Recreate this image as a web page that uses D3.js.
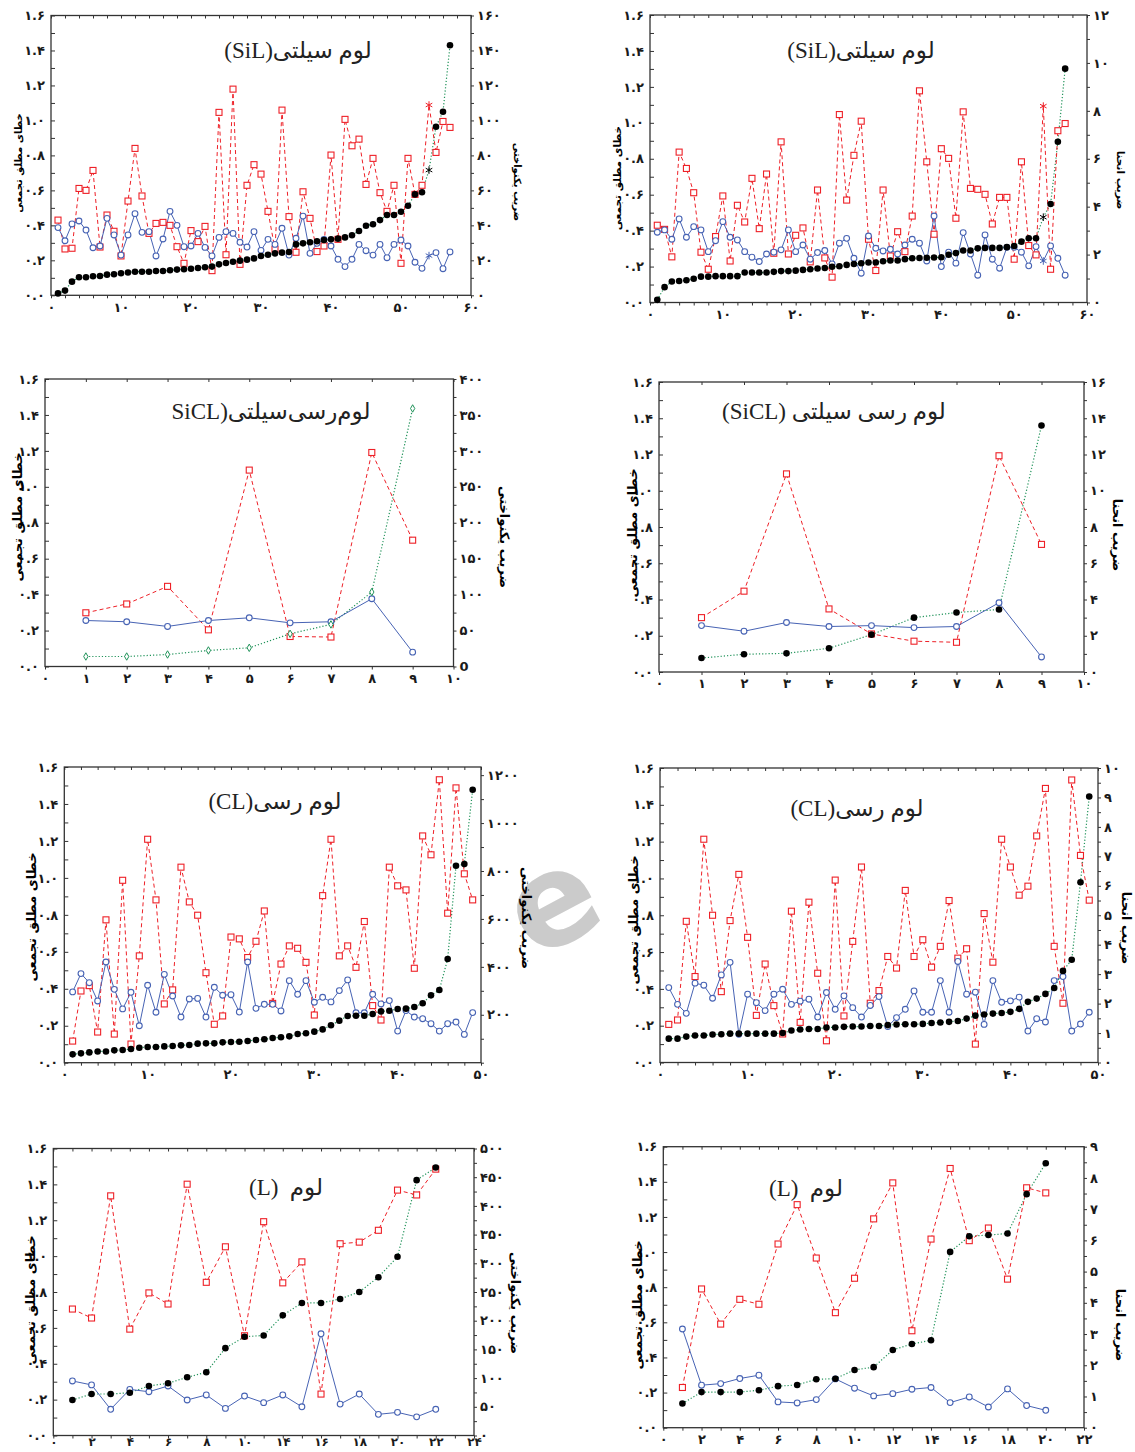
<!DOCTYPE html>
<html>
<head>
<meta charset="utf-8">
<script src="https://cdn.jsdelivr.net/npm/d3@7"></script>
<style>
  body { margin: 0; background: #fff; }
  svg text { font-family: "DejaVu Sans", sans-serif; }
</style>
</head>
<body>
<svg id="chart" width="1135" height="1452"></svg>
<script>
// ---- data: cumulative absolute error (blue = model A, red = model B) and coefficient (black) ----
// silty loam, uniformity coefficient
const silCuBlue = [0.387,0.312,0.408,0.425,0.373,0.272,0.282,0.44,0.345,0.23,0.345,0.467,0.36,0.364,0.225,0.322,0.48,0.40,0.278,0.282,
  0.354,0.274,0.225,0.331,0.364,0.354,0.303,0.276,0.364,0.257,0.32,0.291,0.383,0.23,0.326,0.453,0.24,0.297,0.32,0.282,
  0.206,0.164,0.206,0.291,0.255,0.23,0.291,0.215,0.291,0.316,0.282,0.189,0.154,0.227,0.244,0.152,0.248];
const silCuRed = [0.43,0.265,0.269,0.611,0.60,0.714,0.276,0.459,0.366,0.225,0.539,0.84,0.568,0.354,0.411,0.417,0.40,0.278,0.183,0.37,
  0.307,0.394,0.141,1.046,0.232,1.179,0.177,0.629,0.747,0.693,0.48,0.263,1.059,0.45,0.246,0.592,0.44,0.25,0.282,0.802,
  0.32,1.006,0.855,0.893,0.634,0.783,0.587,0.48,0.629,0.183,0.783,0.577,0.629,1.088,0.817,0.994,0.96];
const silCuCoef = [1.1,2.7,7.8,10.3,10.3,10.9,11,11.8,12,12.6,13,13.5,13.5,13.5,13.9,13.9,14.3,14.7,14.9,15.2,
  15.6,16,16.4,17.7,18.5,19.2,19.8,20.4,21.1,22.5,23.2,24,24.4,24.8,29.1,29.7,30.3,30.9,31.6,32,
  32.4,33.1,34.3,36.8,39.8,40.6,43,45.9,45.9,47.8,51.2,57.7,58.9,71.6,96.4,105,143];

// silty loam, curvature coefficient
const silCcBlue = [0.391,0.404,0.352,0.465,0.363,0.422,0.404,0.283,0.344,0.45,0.363,0.348,0.283,0.252,0.228,0.27,0.28,0.293,0.404,0.283,
  0.32,0.241,0.278,0.289,0.215,0.33,0.357,0.246,0.163,0.37,0.302,0.287,0.296,0.27,0.32,0.352,0.33,0.231,0.481,0.2,
  0.28,0.219,0.389,0.27,0.152,0.376,0.241,0.191,0.307,0.307,0.28,0.204,0.311,0.231,0.315,0.246,0.152];
const silCcRed = [0.43,0.407,0.254,0.837,0.746,0.611,0.28,0.185,0.367,0.593,0.231,0.541,0.448,0.691,0.411,0.715,0.274,0.894,0.27,0.374,
  0.415,0.226,0.626,0.248,0.141,1.046,0.57,0.819,1.009,0.352,0.178,0.626,0.259,0.394,0.283,0.481,1.178,0.783,0.38,0.856,
  0.802,0.469,1.061,0.635,0.63,0.602,0.437,0.585,0.585,0.241,0.783,0.317,0.265,1.093,0.185,0.956,0.996];
const silCcCoef = [0.11,0.64,0.875,0.9,0.93,0.99,1.08,1.08,1.1,1.1,1.1,1.1,1.25,1.25,1.25,1.25,1.28,1.31,1.31,1.33,
  1.36,1.39,1.42,1.44,1.49,1.51,1.57,1.61,1.64,1.67,1.67,1.72,1.75,1.75,1.81,1.85,1.86,1.87,1.88,1.89,
  1.99,2.06,2.17,2.17,2.26,2.28,2.28,2.28,2.31,2.36,2.54,2.68,2.68,3.56,4.11,6.71,9.76];

// silty clay loam
const siclCuBlue = [0.256,0.249,0.223,0.256,0.271,0.243,0.249,0.377,0.08];
const siclCuRed = [0.299,0.348,0.446,0.204,1.093,0.167,0.164,1.191,0.703];
const siclCuCoef = [13.9,13.9,16.7,22.3,26,45.5,58.5,103.6,359];
const siclCcBlue = [0.256,0.225,0.273,0.251,0.256,0.245,0.251,0.382,0.083];
const siclCcRed = [0.3,0.446,1.093,0.348,0.21,0.17,0.164,1.193,0.704];
const siclCcCoef = [0.77,0.98,1.03,1.31,2.06,3.0,3.28,3.45,13.6];

// clay loam
const clCuBlue = [0.383,0.482,0.433,0.334,0.545,0.397,0.291,0.381,0.2,0.419,0.273,0.478,0.361,0.247,0.345,0.348,0.247,0.408,0.365,0.368,
  0.274,0.545,0.294,0.316,0.316,0.28,0.444,0.37,0.444,0.327,0.354,0.329,0.39,0.448,0.27,0.27,0.37,0.318,0.336,0.171,
  0.282,0.247,0.238,0.211,0.171,0.211,0.22,0.153,0.271];
const clCuRed = [0.117,0.388,0.417,0.166,0.773,0.155,0.987,0.101,0.578,1.209,0.881,0.318,0.394,1.058,0.87,0.798,0.487,0.208,0.253,0.68,
  0.67,0.569,0.657,0.821,0.321,0.534,0.632,0.619,0.543,0.258,0.904,1.209,0.578,0.632,0.516,0.764,0.309,0.231,1.058,0.957,
  0.935,0.511,1.227,1.125,1.531,0.809,1.487,1.022,0.881];
const clCuCoef = [34.8,39,43,47,47,51.5,53,57,62.7,65.5,65.5,68,69.6,72.4,73.8,79.4,80.8,80.8,85,86.4,
  87.7,90.5,94.7,98,103,106,110,120,122.6,129.5,139,156,175.5,195,196,196,203,214,217,224,
  225.6,232.6,248,281,303.6,433,821.7,828.7,1139];
const clCcBlue = [0.407,0.316,0.267,0.431,0.42,0.349,0.476,0.544,0.153,0.371,0.325,0.282,0.371,0.398,0.316,0.333,0.344,0.247,0.38,0.289,
  0.362,0.298,0.247,0.31,0.358,0.195,0.244,0.289,0.389,0.273,0.273,0.445,0.273,0.549,0.371,0.382,0.207,0.445,0.327,0.335,
  0.355,0.171,0.238,0.22,0.445,0.467,0.171,0.209,0.273];
const clCcRed = [0.207,0.231,0.767,0.467,1.213,0.8,0.385,0.771,1.022,0.68,0.256,0.535,0.309,0.155,0.822,0.218,0.871,0.485,0.118,0.991,
  0.253,0.658,1.062,0.322,0.391,0.576,0.513,0.935,0.576,0.667,0.518,0.631,0.88,0.567,0.618,0.1,0.809,0.545,1.213,1.062,
  0.909,0.958,1.231,1.489,0.631,0.322,1.535,1.125,0.882];
const clCcCoef = [0.81,0.81,0.88,0.915,0.915,0.95,0.96,0.98,0.98,0.98,0.98,0.98,0.98,1.0,1.085,1.12,1.14,1.14,1.19,1.19,
  1.21,1.22,1.22,1.24,1.24,1.27,1.29,1.3,1.3,1.31,1.34,1.36,1.38,1.41,1.49,1.59,1.63,1.66,1.68,1.72,
  1.82,2.06,2.17,2.33,2.53,3.11,3.49,6.12,9.03];

// loam
const lCuBlue = [0.304,0.282,0.146,0.257,0.244,0.276,0.198,0.226,0.151,0.22,0.183,0.226,0.16,0.567,0.175,0.231,0.118,0.129,0.104,0.146];
const lCuRed = [0.705,0.655,1.336,0.593,0.795,0.733,1.401,0.854,1.052,0.556,1.192,0.851,0.968,0.231,1.069,1.078,1.144,1.368,1.341,1.485];
const lCuCoef = [61.8,72.3,72.3,74.6,86.3,91,101.4,110.2,152.2,172,174.3,209.3,230.9,230.9,237.9,250.1,275.8,311.4,444.9,467];
const lCcBlue = [0.562,0.242,0.251,0.28,0.299,0.147,0.141,0.16,0.278,0.225,0.181,0.194,0.219,0.229,0.143,0.175,0.118,0.221,0.126,0.099];
const lCcRed = [0.229,0.79,0.59,0.731,0.703,1.046,1.27,0.966,0.655,0.851,1.189,1.394,0.552,1.074,1.476,1.065,1.137,0.846,1.366,1.337];
const lCcCoef = [0.774,1.14,1.14,1.14,1.2,1.33,1.37,1.55,1.57,1.85,1.94,2.49,2.68,2.8,5.63,6.13,6.17,6.22,7.48,8.47];

// tick values / labels
const errTicks = [0, 0.2, 0.4, 0.6, 0.8, 1.0, 1.2, 1.4, 1.6];
const xTicks60 = [0, 10, 20, 30, 40, 50, 60];
const xTicks10 = [0, 1, 2, 3, 4, 5, 6, 7, 8, 9, 10];
const xTicks50 = [0, 10, 20, 30, 40, 50];
const xTicks22 = [0, 2, 4, 6, 8, 10, 12, 14, 16, 18, 20, 22];
const xLabels22Cu = ['0', '2', '4', '6', '8', '10', '14', '16', '18', '20', '22', '24'];
const rTicksSilCu = [0, 20, 40, 60, 80, 100, 120, 140, 160];
const rTicksSilCc = [0, 2, 4, 6, 8, 10, 12];
const rTicksSiclCu = [0, 50, 100, 150, 200, 250, 300, 350, 400];
const rTicksSiclCc = [0, 2, 4, 6, 8, 10, 12, 14, 16];
const rTicksClCu = [200, 400, 600, 800, 1000, 1200];
const rTicksClCc = [0, 1, 2, 3, 4, 5, 6, 7, 8, 9, 10];
const rTicksLCu = [0, 50, 100, 150, 200, 250, 300, 350, 400, 450, 500];
const rTicksLCc = [0, 1, 2, 3, 4, 5, 6, 7, 8, 9];

const errLabel = 'خطای مطلق تجمعی';
const cuLabel = 'ضریب یکنواختی';
const ccLabel = 'ضریب انحنا';

// ---- panel layout ----
const panels = [
  {blue: silCuBlue, red: silCuRed, coef: silCuCoef, star: 54, title: '(SiL)لوم سیلتی', rName: cuLabel,
   box: {l: 51, r: 471, t: 15.5, b: 295.3}, xDomain: [0, 60], xTicks: xTicks60, rDomain: [0, 160], rTicks: rTicksSilCu,
   titlePos: [298, 58], lPos: [18, 163], rPos: [517, 182], labSize: 10},
  {blue: silCcBlue, red: silCcRed, coef: silCcCoef, star: 54, title: '(SiL)لوم سیلتی', rName: ccLabel,
   box: {l: 650, r: 1087, t: 15, b: 302.5}, xDomain: [0, 60], xTicks: xTicks60, rDomain: [0, 12], rTicks: rTicksSilCc,
   titlePos: [861, 58], lPos: [617, 178], rPos: [1121, 180], labSize: 10.5},
  {blue: siclCuBlue, red: siclCuRed, coef: siclCuCoef, diamond: true, title: 'SiCL)لوم‌رسی‌سیلتی', rName: cuLabel,
   box: {l: 45, r: 453.5, t: 379, b: 666.5}, xDomain: [0, 10], xTicks: xTicks10, rDomain: [0, 400], rTicks: rTicksSiclCu, rZero: '0',
   titlePos: [271, 419], lPos: [17, 517], rPos: [505, 537], labSize: 13},
  {blue: siclCcBlue, red: siclCcRed, coef: siclCcCoef, title: '(SiCL) لوم رسی سیلتی', rName: ccLabel,
   box: {l: 659, r: 1084, t: 382, b: 672}, xDomain: [0, 10], xTicks: xTicks10, rDomain: [0, 16], rTicks: rTicksSiclCc,
   titlePos: [834, 419], lPos: [632, 533], rPos: [1118, 535], labSize: 13},
  {blue: clCuBlue, red: clCuRed, coef: clCuCoef, title: '(CL)لوم رسی', rName: cuLabel,
   box: {l: 64.3, r: 481, t: 767, b: 1062.7}, xDomain: [0, 50], xTicks: xTicks50, rDomain: [0, 1234], rTicks: rTicksClCu,
   titlePos: [275, 809], lPos: [31, 917], rPos: [527, 918], labSize: 13},
  {blue: clCcBlue, red: clCcRed, coef: clCcCoef, title: '(CL)لوم رسی', rName: ccLabel,
   box: {l: 660, r: 1098, t: 768, b: 1062.5}, xDomain: [0, 50], xTicks: xTicks50, rDomain: [0, 10], rTicks: rTicksClCc,
   titlePos: [857, 816], lPos: [633, 920], rPos: [1127, 928], labSize: 13},
  {blue: lCuBlue, red: lCuRed, coef: lCuCoef, title: '(L)\u00a0\u00a0لوم', rName: cuLabel,
   box: {l: 53.3, r: 474, t: 1148.5, b: 1435.5}, xDomain: [0, 22], xTicks: xTicks22, xLabels: xLabels22Cu, xPad: 0, xFont: 12,
   rDomain: [0, 500], rTicks: rTicksLCu, titlePos: [286, 1195], lPos: [30, 1300], rPos: [516, 1303], labSize: 13},
  {blue: lCcBlue, red: lCcRed, coef: lCcCoef, title: '(L)\u00a0\u00a0لوم', rName: ccLabel,
   box: {l: 663.3, r: 1084, t: 1146.7, b: 1427.7}, xDomain: [0, 22], xTicks: xTicks22, rDomain: [0, 9], rTicks: rTicksLCc,
   titlePos: [806, 1196], lPos: [637, 1305], rPos: [1121, 1325], labSize: 13}
];

const BLUE = '#4763b4', RED = '#ee2027', GREEN = '#21935a', FRAME = '#333';
const fa = s => String(s).replace(/\d/g, d => '۰۱۲۳۴۵۶۷۸۹'[+d]);

const svg = d3.select('#chart');

// faint watermark letter sitting in the gutter
svg.append('text')
  .attr('transform', 'translate(572,940) rotate(-28)')
  .attr('text-anchor', 'middle')
  .style('font-family', 'DejaVu Sans')
  .style('font-weight', 'bold')
  .style('font-size', '128px')
  .style('fill', '#cbcbcb')
  .text('e');

panels.forEach(p => drawPanel(p));

function drawPanel(p) {
  const b = p.box;
  const g = svg.append('g');
  const x = d3.scaleLinear().domain(p.xDomain).range([b.l, b.r]);
  const y = d3.scaleLinear().domain([0, 1.6]).range([b.b, b.t]);
  const yR = d3.scaleLinear().domain(p.rDomain).range([b.b, b.t]);

  g.append('rect').attr('x', b.l).attr('y', b.t).attr('width', b.r - b.l).attr('height', b.b - b.t)
    .style('fill', '#fff');

  // -- axes -- //
  const minorY = d3.range(17).map(i => i / 10);
  const yAxis = g.append('g').attr('transform', `translate(${b.l},0)`)
    .call(d3.axisLeft(y).tickValues(minorY).tickSize(-4).tickPadding(6)
      .tickFormat(d => errTicks.some(t => Math.abs(t - d) < 1e-6) ? fa(d.toFixed(1)) : ''));

  const xStep = p.xTicks[1] - p.xTicks[0];
  const minorX = d3.range(p.xDomain[0], p.xDomain[1] + 1e-6, xStep / (xStep >= 10 ? 5 : (xStep === 2 ? 2 : 1)));
  const xAxis = g.append('g').attr('transform', `translate(0,${b.b})`)
    .call(d3.axisBottom(x).tickValues(minorX).tickSize(3).tickPadding(p.xPad !== undefined ? p.xPad : 4)
      .tickFormat(d => {
        const k = p.xTicks.findIndex(t => Math.abs(t - d) < 1e-6);
        if (k < 0) return '';
        return fa(p.xLabels ? p.xLabels[k] : d);
      }));
  g.append('g').attr('transform', `translate(0,${b.t})`)
    .call(d3.axisTop(x).tickValues(minorX).tickSize(-3).tickFormat(''));

  const rStep = p.rTicks[1] - p.rTicks[0];
  const minorR = d3.range(0, p.rDomain[1] + 1e-6, rStep / 2);
  const rAxis = g.append('g').attr('transform', `translate(${b.r},0)`)
    .call(d3.axisRight(yR).tickValues(minorR).tickSize(3).tickPadding(3)
      .tickFormat(d => {
        if (!p.rTicks.includes(d)) return '';
        if (d === 0 && p.rZero) return p.rZero;
        return fa(d);
      }));

  [yAxis, xAxis, rAxis].forEach(a => {
    a.select('.domain').remove();
    a.selectAll('line').style('stroke', FRAME);
    a.selectAll('text').style('font-size', '13px').style('font-weight', 'bold').style('fill', '#1a1a1a');
  });
  if (p.xFont) xAxis.selectAll('text').style('font-size', p.xFont + 'px').attr('dy', '0.62em');
  g.selectAll('.domain').remove();
  g.selectAll('line').style('stroke', FRAME);

  g.append('rect').attr('x', b.l).attr('y', b.t).attr('width', b.r - b.l).attr('height', b.b - b.t)
    .style('fill', 'none').style('stroke', FRAME).style('stroke-width', 1.3);

  // -- axis names -- //
  g.append('text')
    .attr('transform', `translate(${p.lPos[0]},${p.lPos[1]}) rotate(-90)`)
    .attr('text-anchor', 'middle').attr('dy', '0.35em')
    .style('font-size', p.labSize + 'px').style('font-weight', 'bold')
    .text(errLabel);
  g.append('text')
    .attr('transform', `translate(${p.rPos[0]},${p.rPos[1]}) rotate(90)`)
    .attr('text-anchor', 'middle').attr('dy', '0.35em')
    .style('font-size', p.labSize + 'px').style('font-weight', 'bold')
    .text(p.rName);

  // -- title -- //
  g.append('text')
    .attr('x', p.titlePos[0]).attr('y', p.titlePos[1])
    .attr('text-anchor', 'middle')
    .style('font-family', '"Liberation Serif", "DejaVu Sans", serif')
    .style('font-size', '23px')
    .style('fill', '#222')
    .text(p.title);

  // -- series -- //
  const lineErr = d3.line().x((d, i) => x(i + 1)).y(d => y(d));
  const lineCoef = d3.line().x((d, i) => x(i + 1)).y(d => yR(d));

  g.append('path').datum(p.coef).attr('d', lineCoef)
    .style('fill', 'none').style('stroke', GREEN).style('stroke-width', 1.2).style('stroke-dasharray', '1.2,2');
  g.append('path').datum(p.red).attr('d', lineErr)
    .style('fill', 'none').style('stroke', RED).style('stroke-width', 1).style('stroke-dasharray', '4,3');
  g.append('path').datum(p.blue).attr('d', lineErr)
    .style('fill', 'none').style('stroke', BLUE).style('stroke-width', 1);

  const keep = (d, i) => i + 1 !== p.star;

  g.selectAll('.sq').data(p.red.map((v, i) => ({v, i})).filter(d => keep(d.v, d.i)))
    .enter().append('rect').attr('class', 'sq')
    .attr('x', d => x(d.i + 1) - 3).attr('y', d => y(d.v) - 3)
    .attr('width', 6).attr('height', 6)
    .style('fill', '#fff').style('stroke', RED).style('stroke-width', 1.1);

  g.selectAll('.circ').data(p.blue.map((v, i) => ({v, i})).filter(d => keep(d.v, d.i)))
    .enter().append('circle').attr('class', 'circ')
    .attr('cx', d => x(d.i + 1)).attr('cy', d => y(d.v)).attr('r', 2.9)
    .style('fill', '#fff').style('stroke', BLUE).style('stroke-width', 1.1);

  if (p.diamond) {
    g.selectAll('.dia').data(p.coef.map((v, i) => ({v, i})))
      .enter().append('path').attr('class', 'dia')
      .attr('transform', d => `translate(${x(d.i + 1)},${yR(d.v)})`)
      .attr('d', d3.symbol(d3.symbolDiamond, 16))
      .style('fill', '#fff').style('stroke', GREEN).style('stroke-width', 1);
  } else {
    g.selectAll('.dot').data(p.coef.map((v, i) => ({v, i})).filter(d => keep(d.v, d.i)))
      .enter().append('circle').attr('class', 'dot')
      .attr('cx', d => x(d.i + 1)).attr('cy', d => yR(d.v)).attr('r', 3.3)
      .style('fill', '#000');
  }

  if (p.star) {
    const k = p.star - 1;
    const star = d3.symbol(d3.symbolAsterisk, 40);
    [[p.red[k], y, RED], [p.blue[k], y, BLUE], [p.coef[k], yR, '#000']].forEach(([v, sc, c]) => {
      g.append('path').attr('transform', `translate(${x(p.star)},${sc(v)})`)
        .attr('d', star).style('fill', 'none').style('stroke', c).style('stroke-width', 1);
    });
  }
}
</script>
</body>
</html>
